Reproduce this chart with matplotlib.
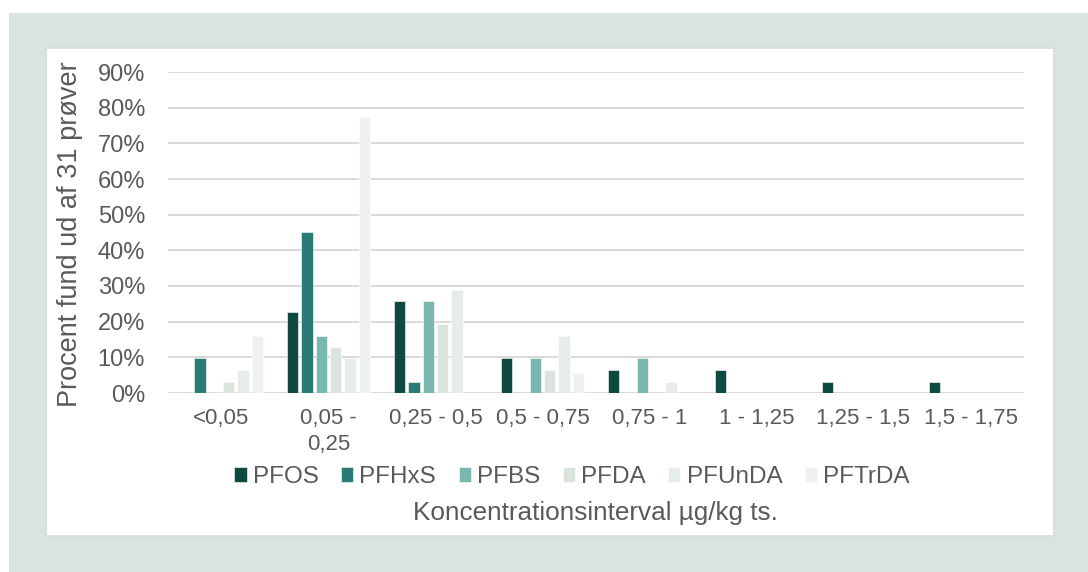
import numpy as np
import matplotlib
matplotlib.use("Agg")
import matplotlib.pyplot as plt
from matplotlib.patches import Rectangle

plt.rcParams['font.family'] = ['Liberation Sans', 'DejaVu Sans']

# data: percent of 31 samples per concentration interval
categories = ["<0,05", "0,05 -\n0,25", "0,25 - 0,5", "0,5 - 0,75", "0,75 - 1",
              "1 - 1,25", "1,25 - 1,5", "1,5 - 1,75"]
series_names = ["PFOS", "PFHxS", "PFBS", "PFDA", "PFUnDA", "PFTrDA"]
pfos = [0, 22.6, 25.8, 9.7, 6.5, 6.5, 3.2, 3.2]
pfhxs = [9.7, 45.2, 3.2, 0, 0, 0, 0, 0]
pfbs = [0, 16.1, 25.8, 9.7, 9.7, 0, 0, 0]
pfda = [3.2, 12.9, 19.4, 6.5, 0, 0, 0, 0]
pfunda = [6.5, 9.7, 29.0, 16.1, 3.2, 0, 0, 0]
pftrda = [16.1, 77.4, 0, 5.7, 0, 0, 0, 0]
colors = ["#0e4a40", "#2a7a75", "#7bb7b1", "#d9e4dd", "#e6ede8", "#eef2ef"]

text_col = "#595959"
grid_col = "#d9d9d9"

fig = plt.figure(figsize=(10.88, 5.72), dpi=100)
W, H = 1088, 572

# outer frame and white card
fig.patches.append(Rectangle((9 / W, 0), 1079 / W, 559 / H, transform=fig.transFigure,
                             facecolor="#dae4de", edgecolor="none", zorder=-10))
fig.patches.append(Rectangle((46 / W, 36 / H), 1008 / W, 488 / H, transform=fig.transFigure,
                             facecolor="white", edgecolor=grid_col, linewidth=1.2, zorder=-9))

ax = fig.add_axes([168 / W, 179 / H, 856 / W, 321 / H])
ax.set_facecolor("none")

x = np.arange(len(categories))
slot = 0.1336
bw = 0.107
all_vals = [pfos, pfhxs, pfbs, pfda, pfunda, pftrda]
for i, (name, vals, c) in enumerate(zip(series_names, all_vals, colors)):
    ax.bar(x + (i - 2.5) * slot, vals, width=bw, color=c, label=name,
           edgecolor="white", linewidth=0.4, zorder=3)

ax.set_xlim(-0.5, len(categories) - 0.5)
ax.set_ylim(0, 90)
ax.set_yticks(np.arange(0, 91, 10))
ax.set_yticklabels([f"{v}%" for v in range(0, 91, 10)])
ax.set_xticks(x)
ax.set_xticklabels(categories, linespacing=1.3)
ax.grid(axis="y", color=grid_col, linewidth=1.4, zorder=0)
ax.tick_params(axis="y", length=0, pad=16.5, labelsize=17, labelcolor=text_col)
ax.tick_params(axis="x", length=0, pad=11, labelsize=16, labelcolor=text_col)
for s in ax.spines.values():
    s.set_visible(False)

fig.text(70 / W, 1 - 234 / H, "Procent fund ud af 31 prøver", rotation=90,
         ha="center", va="center", fontsize=19.5, color=text_col)

leg = fig.legend(loc="center", bbox_to_anchor=(572 / W, 1 - 477 / H), ncol=6,
                 frameon=False, fontsize=17.5, handlelength=0.5, handleheight=0.6,
                 handletextpad=0.25, columnspacing=0.93, labelcolor=text_col)

fig.text(595 / W, 1 - 513 / H, "Koncentrationsinterval µg/kg ts.",
         ha="center", va="center", fontsize=18.8, color=text_col)

fig.savefig("out.png", dpi=100)
